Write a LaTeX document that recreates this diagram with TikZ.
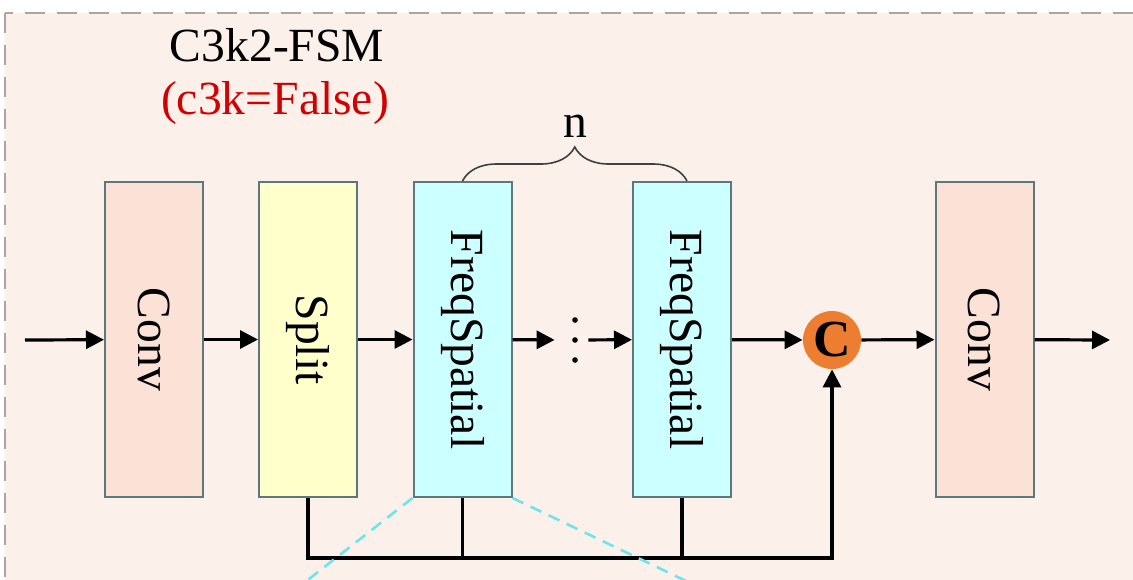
\documentclass[tikz,border=0pt]{standalone}
\usepackage{fontspec}
\setmainfont{Liberation Serif}
\usetikzlibrary{arrows.meta,decorations.pathreplacing}

\definecolor{bgpeach}{RGB}{251,240,234}
\definecolor{convfill}{RGB}{252,226,214}
\definecolor{splitfill}{RGB}{255,255,204}
\definecolor{freqfill}{RGB}{204,255,255}
\definecolor{boxline}{RGB}{90,120,125}
\definecolor{catfill}{RGB}{237,125,49}
\definecolor{zoomline}{RGB}{110,228,236}
\definecolor{titlered}{RGB}{210,0,0}

\begin{document}
\begin{tikzpicture}[x=0.5pt, y=-0.5pt,
  every node/.style = {font=\fontsize{23.8}{28}\selectfont},
  block/.style = {draw=boxline, line width=1pt, minimum width=49pt,
                  minimum height=157.5pt, inner sep=0pt},
  arr/.style = {line width=1.6pt, -{Triangle[length=9pt, width=9pt]}},
  link/.style = {line width=1.6pt}]

% frame
\useasboundingbox (0,0) rectangle (1133,579);
\clip (0,0) rectangle (1133,579);
\filldraw[fill=bgpeach, draw=gray!70, dash pattern=on 10pt off 6pt, line width=1.3pt]
  (5,13) rectangle (1150,600);

\node (title) at (277,45) {C3k2-FSM};
\node (subtitle) [text=titlered] at (275,103) {(c3k=False)};

% blocks
\node (conv1) [block, fill=convfill] at (154,339.5) {\rotatebox{-90}{Conv}};
\node (split1) [block, fill=splitfill] at (308,339.5) {\rotatebox{-90}{Split}};
\node (freq1) [block, fill=freqfill] at (462.5,339.5) {\rotatebox{-90}{FreqSpatial}};
\node (dots) [minimum width=16.5pt, minimum height=24pt, inner sep=0pt] at (571.5,340) {};
\node (freq2) [block, fill=freqfill] at (682,339.5) {\rotatebox{-90}{FreqSpatial}};
\node (cat1) [circle, fill=catfill, minimum size=29pt, inner sep=0pt,
              font=\fontsize{26}{30}\selectfont\bfseries] at (832,340) {C};
\node (conv2) [block, fill=convfill] at (984.5,339.5) {\rotatebox{-90}{Conv}};

\foreach \dy in {-20,0,20}
  \fill ([xshift=1.75pt, yshift=\dy*0.5pt]dots.center) circle (1.4pt);

\coordinate (in) at (25,340);
\coordinate (out) at (1110,340);
\coordinate (bus) at (832,558);
\coordinate (zoomL) at (295,590);
\coordinate (zoomR) at (705,590);

% main flow
\draw[arr] (in) -- (conv1);
\draw[arr] (conv1) -- (split1);
\draw[arr] (split1) -- (freq1);
\draw[arr] (freq1) -- (dots);
\draw[arr] (dots) -- (freq2);
\draw[arr] (freq2) -- (cat1);
\draw[arr] (cat1) -- (conv2);
\draw[arr] (conv2) -- (out);

% shortcut
\draw[arr] (split1.south) |- (bus) -- (cat1.south);
\draw[link] (freq1.south) -- (freq1.south |- bus);
\draw[link] (freq2.south) -- (freq2.south |- bus);

\draw[decorate, decoration={brace, amplitude=17pt}, draw=black!75, line width=0.8pt]
  (freq1.north) -- ([xshift=2.5pt]freq2.north);
\node (nlabel) at (575,126) {n};

\draw[zoomline, dash pattern=on 6pt off 4pt, line width=1.3pt] (freq1.south west) -- (zoomL);
\draw[zoomline, dash pattern=on 6pt off 4pt, line width=1.3pt] (freq1.south east) -- (zoomR);
\end{tikzpicture}
\end{document}
